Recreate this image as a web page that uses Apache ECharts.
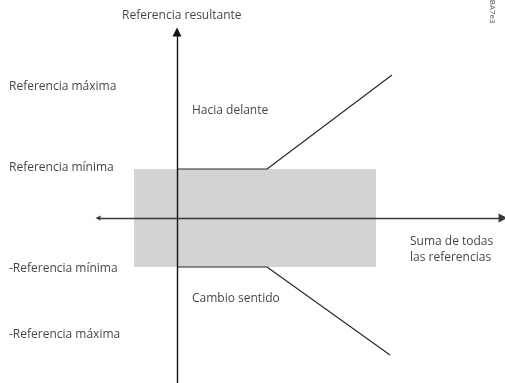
<!DOCTYPE html>
<html>
<head>
<meta charset="utf-8">
<script src="https://cdn.jsdelivr.net/npm/echarts@6/dist/echarts.min.js"></script>
<style>
  html, body { margin: 0; padding: 0; background: #fff; }
  #chart { width: 505px; height: 383px; }
</style>
</head>
<body>
<div id="chart"></div>
<script>
// units are relative to the point where both axes cross
const refMin = 49;
const forwardLine = [[0, 49], [90, 49], [215, 143]];
const reverseLine = [[0, -49], [90, -49], [213, -137]];
const deadBand = [[-43, refMin], [199, -refMin]];
const yAxisLine = [[0, -165], [0, 186]];
const xAxisLine = [[-79, 0], [326, 0]];

const labelNames = [
    'Referencia resultante',
    'Referencia máxima',
    'Hacia delante',
    'Referencia mínima',
    '-Referencia mínima',
    'Cambio sentido',
    '-Referencia máxima',
    'Suma de todas\nlas referencias'
];
const labelX = [-55, -168, 15, -168, -168, 15, -168, 233];
const labelY = [202, 131, 107, 50, -51, -81, -117, -32];

const arrowHead = 'path://M0,0L5,10L-5,10Z';

const chart = echarts.init(document.getElementById('chart'));

const txt = { color: '#111', fontSize: 12, fontFamily: 'Open Sans' };

chart.setOption({
    animation: false,
    grid: { left: 0, right: 0, top: 0, bottom: 0 },
    xAxis: { type: 'value', min: -177, max: 328, show: false },
    yAxis: { type: 'value', min: -165, max: 218, show: false },
    graphic: [{
        type: 'text', x: 496, y: -14, rotation: -Math.PI / 2,
        style: { text: '130BA7e3', fill: '#555', fontSize: 8, fontFamily: 'Open Sans' }
    }],
    series: [
        {
            type: 'line', data: [], z: 1, silent: true,
            markArea: {
                silent: true,
                itemStyle: { color: '#d3d3d5', opacity: 1 },
                data: [[{ coord: deadBand[0] }, { coord: deadBand[1] }]]
            }
        },
        {
            type: 'line', data: forwardLine, z: 3, symbol: 'none', silent: true,
            lineStyle: { color: '#2a2a2a', width: 1.2 }
        },
        {
            type: 'line', data: reverseLine, z: 3, symbol: 'none', silent: true,
            lineStyle: { color: '#2a2a2a', width: 1.2 }
        },
        {
            type: 'lines', coordinateSystem: 'cartesian2d', z: 4, silent: true,
            symbol: ['none', arrowHead], symbolSize: [5, 9],
            lineStyle: { color: '#111', width: 1.4, opacity: 1 },
            data: [{ coords: yAxisLine }]
        },
        {
            type: 'lines', coordinateSystem: 'cartesian2d', z: 4, silent: true,
            symbol: [arrowHead, arrowHead], symbolSize: [5, 9],
            lineStyle: { color: '#3a3a3a', width: 1.4, opacity: 1 },
            data: [{ coords: xAxisLine }]
        },
        {
            type: 'scatter', z: 5, silent: true, symbolSize: 0,
            data: labelNames.map((n, i) => ({ name: n, value: [labelX[i], labelY[i]] })),
            label: {
                show: true, position: 'right', distance: 0,
                formatter: p => p.name, lineHeight: 16, ...txt
            }
        }
    ]
});
</script>
</body>
</html>
